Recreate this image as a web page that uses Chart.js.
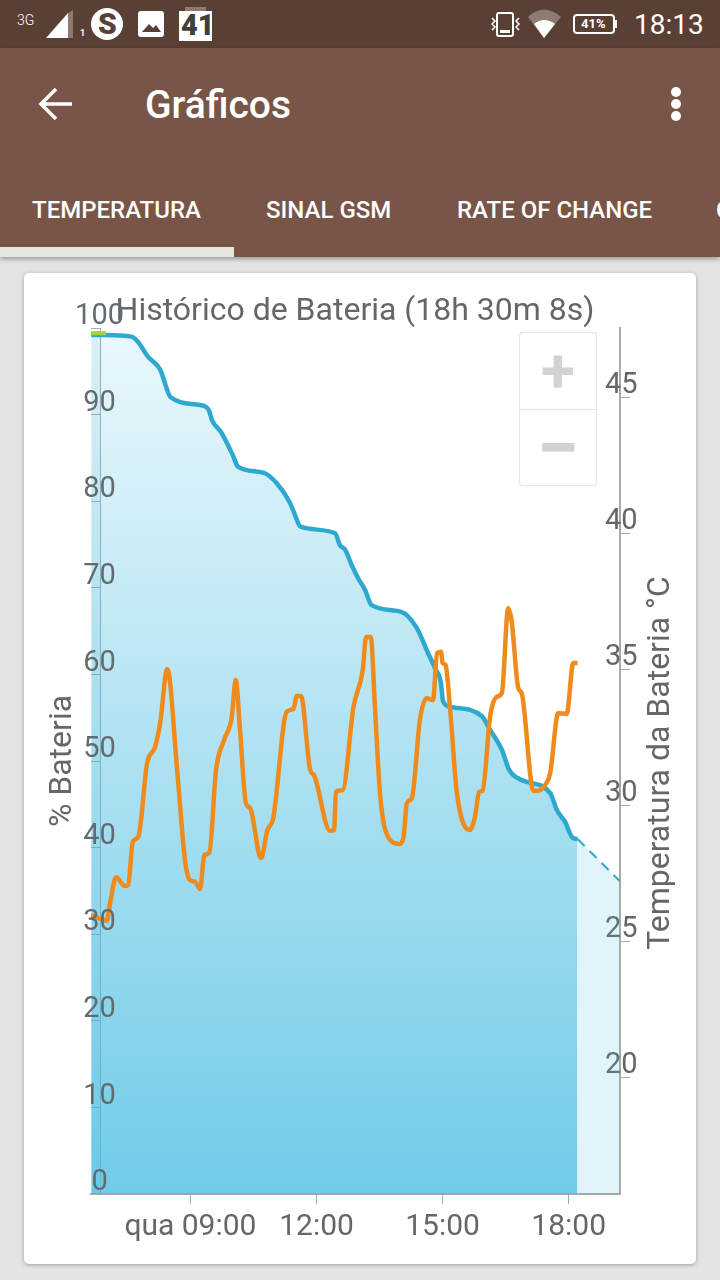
<!DOCTYPE html>
<html>
<head>
<meta charset="utf-8">
<title>Gráficos</title>
<script src="https://cdn.jsdelivr.net/npm/chart.js@4"></script>
<style>
html, body { margin: 0; padding: 0; }
body { width: 720px; height: 1280px; position: relative; overflow: hidden; background: #e4e4e4; font-family: Roboto, sans-serif; color: #fff; }
.abs { position: absolute; white-space: nowrap; line-height: 1; }
#status { position: absolute; left: 0; top: 0; width: 720px; height: 48px; background: #5a4034; }
#bar { position: absolute; left: 0; top: 48px; width: 720px; height: 209px; background: #795548; box-shadow: 0 2px 5px rgba(0,0,0,.35); }
#indicator { position: absolute; left: 0; top: 247px; width: 234px; height: 10px; background: #e8e4df; }
.tab { font-size: 24px; font-weight: 500; top: 198px; }
#card { position: absolute; left: 24px; top: 273px; width: 672px; height: 991px; background: #fff; border-radius: 5px; box-shadow: 0 1px 4px rgba(0,0,0,.3); }
canvas { position: absolute; left: 24px; top: 273px; }
#zoomBox { position: absolute; left: 519px; top: 332px; width: 76px; height: 152px; border: 1px solid #e6e6e6; box-shadow: 0 0 1px #ddd; border-radius: 4px; background: #fff; color: #d2d2d2; font-weight: 700; text-align: center; }
#zoomBox div { height: 76px; line-height: 76px; font-size: 62px; }
#zoomBox div + div { border-top: 1px solid #e6e6e6; height: 75px; font-size: 76px; }
</style>
</head>
<body>
<div id="status"></div>
<div id="bar"></div>
<div id="indicator"></div>

<span class="abs" style="left:17px;top:13px;font-size:14px;font-weight:300">3G</span>
<svg class="abs" style="left:0;top:0" width="720" height="48">
  <path d="M46 38 L68 13 V38 Z" fill="#fff"/>
  <path d="M68 13 L73 10 V38 H68 Z" fill="#8d7a70"/>
  <circle cx="107" cy="24" r="16" fill="#fff"/>
  <rect x="138" y="11" width="26" height="26" rx="3" fill="#fff"/>
  <path d="M142 32 L149 24 L153 28 L156 25 L161 32 Z" fill="#5a4034"/>
  <rect x="179" y="11" width="33" height="30" fill="#fff"/>
  <rect x="185" y="7" width="21" height="4" fill="#8d7a70"/>
  <rect x="497" y="13" width="16" height="23" rx="2" fill="none" stroke="#fff" stroke-width="2"/>
  <rect x="500" y="30" width="10" height="3" fill="#fff"/>
  <path d="M492 18 l3 3 -3 3 3 3 -3 3 M519 18 l-3 3 3 3 -3 3 3 3" fill="none" stroke="#fff" stroke-width="1.5"/>
  <path d="M528 17 Q544 2 561 17 L544 38 Z" fill="#8d7a70"/>
  <path d="M534 24 Q544 16 555 24 L544 38 Z" fill="#fff"/>
  <rect x="574" y="15" width="40" height="18" rx="3" fill="none" stroke="#fff" stroke-width="2"/>
  <rect x="615" y="20" width="2" height="8" fill="#fff"/>
</svg>
<svg class="abs" style="left:0;top:48px" width="720" height="100">
  <path d="M41 56 H72 M56 41 L41 56 L56 71" fill="none" stroke="#fff" stroke-width="3.5"/>
  <circle cx="676" cy="44" r="5" fill="#fff"/><circle cx="676" cy="56" r="5" fill="#fff"/><circle cx="676" cy="68" r="5" fill="#fff"/>
</svg>
<span class="abs" style="left:80px;top:29px;font-size:9px;font-weight:700">1</span>
<span class="abs" style="left:98px;top:9px;font-size:30px;font-weight:900;color:#5a4034">S</span>
<span class="abs" style="left:181px;top:11px;font-size:29px;font-weight:900;color:#3f3f3f">41</span>
<span class="abs" style="left:581px;top:17px;font-size:13px;font-weight:700">41%</span>
<span class="abs" style="left:634px;top:11px;font-size:28px;font-weight:400">18:13</span>

<span class="abs" style="left:145px;top:86px;font-size:39px;font-weight:500">Gráficos</span>
<span class="abs tab" style="left:32px">TEMPERATURA</span>
<span class="abs tab" style="left:266px">SINAL GSM</span>
<span class="abs tab" style="left:457px">RATE OF CHANGE</span>
<span class="abs tab" style="left:716px">C</span>

<div id="card"></div>
<canvas id="myChart" width="662" height="991"></canvas>
<div id="zoomBox"><div>+</div><div>−</div></div>

<script>
// hours of the day
const batteryTimes = [6.64, 6.99, 7.60, 7.75, 7.99, 8.28, 8.53, 9.23, 9.44, 9.51, 9.74, 10.01, 10.13, 10.73, 11.05, 11.37, 11.49, 11.61, 12.44, 12.56, 12.68, 12.84, 12.99, 13.15, 13.31, 14.03, 14.38, 14.65, 14.82, 14.96, 15.01, 15.22, 15.93, 16.13, 16.41, 16.58, 16.88, 17.56, 17.72, 17.91, 18.10, 18.21];
const batteryValues = [99.2, 99.2, 99.0, 98.4, 96.7, 95.2, 92.0, 91.1, 90.5, 89.4, 87.9, 85.3, 84.0, 83.3, 82.1, 79.8, 78.4, 77.1, 76.3, 74.9, 74.4, 72.6, 71.1, 69.8, 68.0, 67.2, 65.4, 62.5, 60.7, 59.0, 56.9, 56.2, 55.2, 53.6, 51.3, 49.0, 47.8, 46.3, 44.3, 43.0, 41.1, 41.0];

const projectionTimes = [18.21, 19.22];
const projectionValues = [41.0, 36.1];

const startTimes = [6.64, 6.85];
const startValues = [99.4, 99.4];
const startLineTimes = [6.64, 6.99];

const tempTimes = [6.64, 7.01, 7.09, 7.23, 7.44, 7.52, 7.63, 7.76, 7.97, 8.16, 8.28, 8.45, 8.69, 8.87, 8.97, 9.11, 9.23, 9.33, 9.45, 9.61, 9.80, 9.98, 10.08, 10.18, 10.32, 10.42, 10.68, 10.83, 10.97, 11.29, 11.45, 11.53, 11.63, 11.85, 11.94, 12.32, 12.42, 12.46, 12.62, 12.88, 13.10, 13.18, 13.29, 13.39, 13.51, 13.65, 13.97, 14.07, 14.15, 14.27, 14.46, 14.62, 14.77, 14.87, 14.96, 15.00, 15.07, 15.18, 15.34, 15.65, 15.77, 15.87, 15.95, 16.13, 16.29, 16.41, 16.56, 16.64, 16.80, 16.88, 17.16, 17.28, 17.44, 17.56, 17.75, 17.95, 18.11, 18.21];
const tempValues = [25.96, 25.75, 26.4, 27.35, 27.02, 27.06, 28.65, 28.83, 31.54, 32.14, 33.01, 35.0, 31.18, 27.98, 27.28, 27.18, 26.91, 28.16, 28.25, 31.29, 32.39, 33.2, 34.6, 32.76, 30.07, 29.89, 28.05, 29.08, 29.52, 33.43, 33.53, 34.01, 34.01, 31.29, 31.1, 29.06, 29.08, 30.49, 30.55, 33.61, 34.96, 36.18, 36.18, 33.61, 30.44, 29.02, 28.57, 28.83, 30.07, 30.26, 33.13, 33.93, 33.86, 35.59, 35.64, 35.22, 35.15, 33.49, 30.44, 29.08, 29.57, 30.49, 30.53, 33.25, 33.98, 34.12, 37.24, 36.8, 34.3, 34.12, 30.53, 30.53, 30.74, 31.18, 33.38, 33.35, 35.22, 35.22];

// first entry is where the left axis line stands, it has no label
const axisHour = 6.85;
const xTickHours = [axisHour, 9, 12, 15, 18];
const xTickLabels = ["", "qua 09:00", "12:00", "15:00", "18:00"];
const batteryTicks = [0, 10, 20, 30, 40, 50, 60, 70, 80, 90, 100];
const tempTicks = [20, 25, 30, 35, 40, 45];

const chartTitle = "Histórico de Bateria (18h 30m 8s)";
const batteryTitle = "% Bateria";
const tempTitle = "Temperatura da Bateria °C";

const textColor = "#666666";
const axisColor = "#aaaaaa";
const fontTick = { family: "Roboto", size: 29 };
const fontTitle = { family: "Roboto", size: 32 };

function points(xs, ys) {
	return xs.map((x, i) => ({ x: x, y: ys[i] }));
}

function setTicks(values) {
	return (scale) => {
		scale.ticks = values.map((v) => ({ value: v }));
	};
}

// tick labels sit across the axis line, so no clipping to the scale box
function fixBox(size) {
	return (scale) => {
		if (scale.isHorizontal()) scale.height = size;
		else scale.width = size;
		scale._computeLabelArea = () => undefined;
	};
}

function blueFill(context) {
	const area = context.chart.chartArea;
	if (!area) return "rgba(65,186,224,0.4)";
	const g = context.chart.ctx.createLinearGradient(0, area.top, 0, area.bottom);
	g.addColorStop(0, "rgba(65,186,224,0.11)");
	g.addColorStop(1, "rgba(65,186,224,0.75)");
	return g;
}

// the right axis title reads upward, chart.js would turn it the other way
const rightTitle = {
	id: "rightTitle",
	afterDraw(chart) {
		const c = chart.ctx;
		const area = chart.chartArea;
		c.save();
		c.translate(637, (area.top + area.bottom) / 2 + 2);
		c.rotate(-Math.PI / 2);
		c.font = "32px Roboto";
		c.fillStyle = textColor;
		c.textAlign = "center";
		c.textBaseline = "middle";
		c.fillText(tempTitle, 0, 0);
		c.restore();
	},
};

const ctx = document.getElementById("myChart");
const myChart = new Chart(ctx, {
	type: "line",
	data: {
		datasets: [
			{
				label: "Temperatura",
				data: points(tempTimes, tempValues),
				yAxisID: "yTemp",
				borderColor: "#ef8b1c",
				borderWidth: 4.5,
				pointRadius: 0,
				cubicInterpolationMode: "monotone",
				fill: false,
				order: 0,
			},
			{
				label: "Início",
				data: points(startLineTimes, startValues),
				yAxisID: "yBattery",
				borderColor: "#a4d045",
				borderWidth: 4,
				pointRadius: 0,
				fill: false,
				order: 1,
			},
			{
				label: "Bateria",
				data: points(batteryTimes, batteryValues),
				yAxisID: "yBattery",
				borderColor: "#2fa8d0",
				borderWidth: 4.5,
				pointRadius: 0,
				cubicInterpolationMode: "monotone",
				backgroundColor: blueFill,
				fill: "origin",
				order: 2,
			},
			{
				label: "Faixa",
				data: points(startTimes, startValues),
				yAxisID: "yBattery",
				borderWidth: 0,
				pointRadius: 0,
				backgroundColor: "rgba(65,170,210,0.1)",
				fill: "origin",
				order: 3,
			},
			{
				label: "Previsão",
				data: points(projectionTimes, projectionValues),
				yAxisID: "yBattery",
				borderColor: "#2fa8d0",
				borderWidth: 2,
				borderDash: [10, 7],
				pointRadius: 0,
				backgroundColor: "rgba(65,186,224,0.16)",
				fill: "origin",
				order: 4,
			},
		],
	},
	options: {
		responsive: false,
		animation: false,
		layout: { padding: 0 },
		plugins: {
			legend: { display: false },
			tooltip: { enabled: false },
			title: {
				display: true,
				text: chartTitle,
				color: textColor,
				font: { family: "Roboto", size: 32, weight: "normal", lineHeight: 1 },
				padding: { top: 23, bottom: 0 },
			},
		},
		scales: {
			x: {
				type: "linear",
				position: "bottom",
				min: 6.635,
				max: 19.22,
				afterBuildTicks: setTicks(xTickHours),
				afterFit: fixBox(70),
				grid: {
					color: (c) => (c.tick.value === axisHour ? axisColor : "transparent"),
					tickColor: (c) => (c.tick.value === axisHour ? "transparent" : axisColor),
					tickLength: 10,
				},
				border: { color: axisColor, width: 2 },
				ticks: {
					color: textColor,
					font: { family: "Roboto", size: 30 },
					padding: 5,
					autoSkip: false,
					maxRotation: 0,
					callback: (v) => xTickLabels[xTickHours.indexOf(v)],
				},
			},
			yBattery: {
				type: "linear",
				position: "left",
				min: 0,
				max: 100,
				afterBuildTicks: setTicks(batteryTicks),
				afterFit: fixBox(67),
				// ticks point into the plot, from its left edge to the axis line
				grid: { drawOnChartArea: false, color: axisColor, tickLength: -9 },
				border: { display: false },
				title: {
					display: true,
					text: batteryTitle,
					color: textColor,
					font: fontTitle,
					padding: { top: 20, bottom: 0 },
				},
				ticks: {
					color: "#636b70",
					font: fontTick,
					crossAlign: "center",
					padding: -24,
					labelOffset: -11,
					autoSkip: false,
					z: 1,
				},
			},
			yTemp: {
				type: "linear",
				position: "right",
				min: 15.7,
				max: 47.54,
				afterBuildTicks: setTicks(tempTicks),
				afterFit: fixBox(66),
				grid: { drawOnChartArea: false, color: axisColor, tickLength: 10 },
				border: { color: axisColor, width: 2 },
				ticks: {
					color: textColor,
					font: fontTick,
					crossAlign: "center",
					padding: -25,
					labelOffset: -11,
					autoSkip: false,
				},
			},
		},
	},
	plugins: [rightTitle],
});
</script>
</body>
</html>
